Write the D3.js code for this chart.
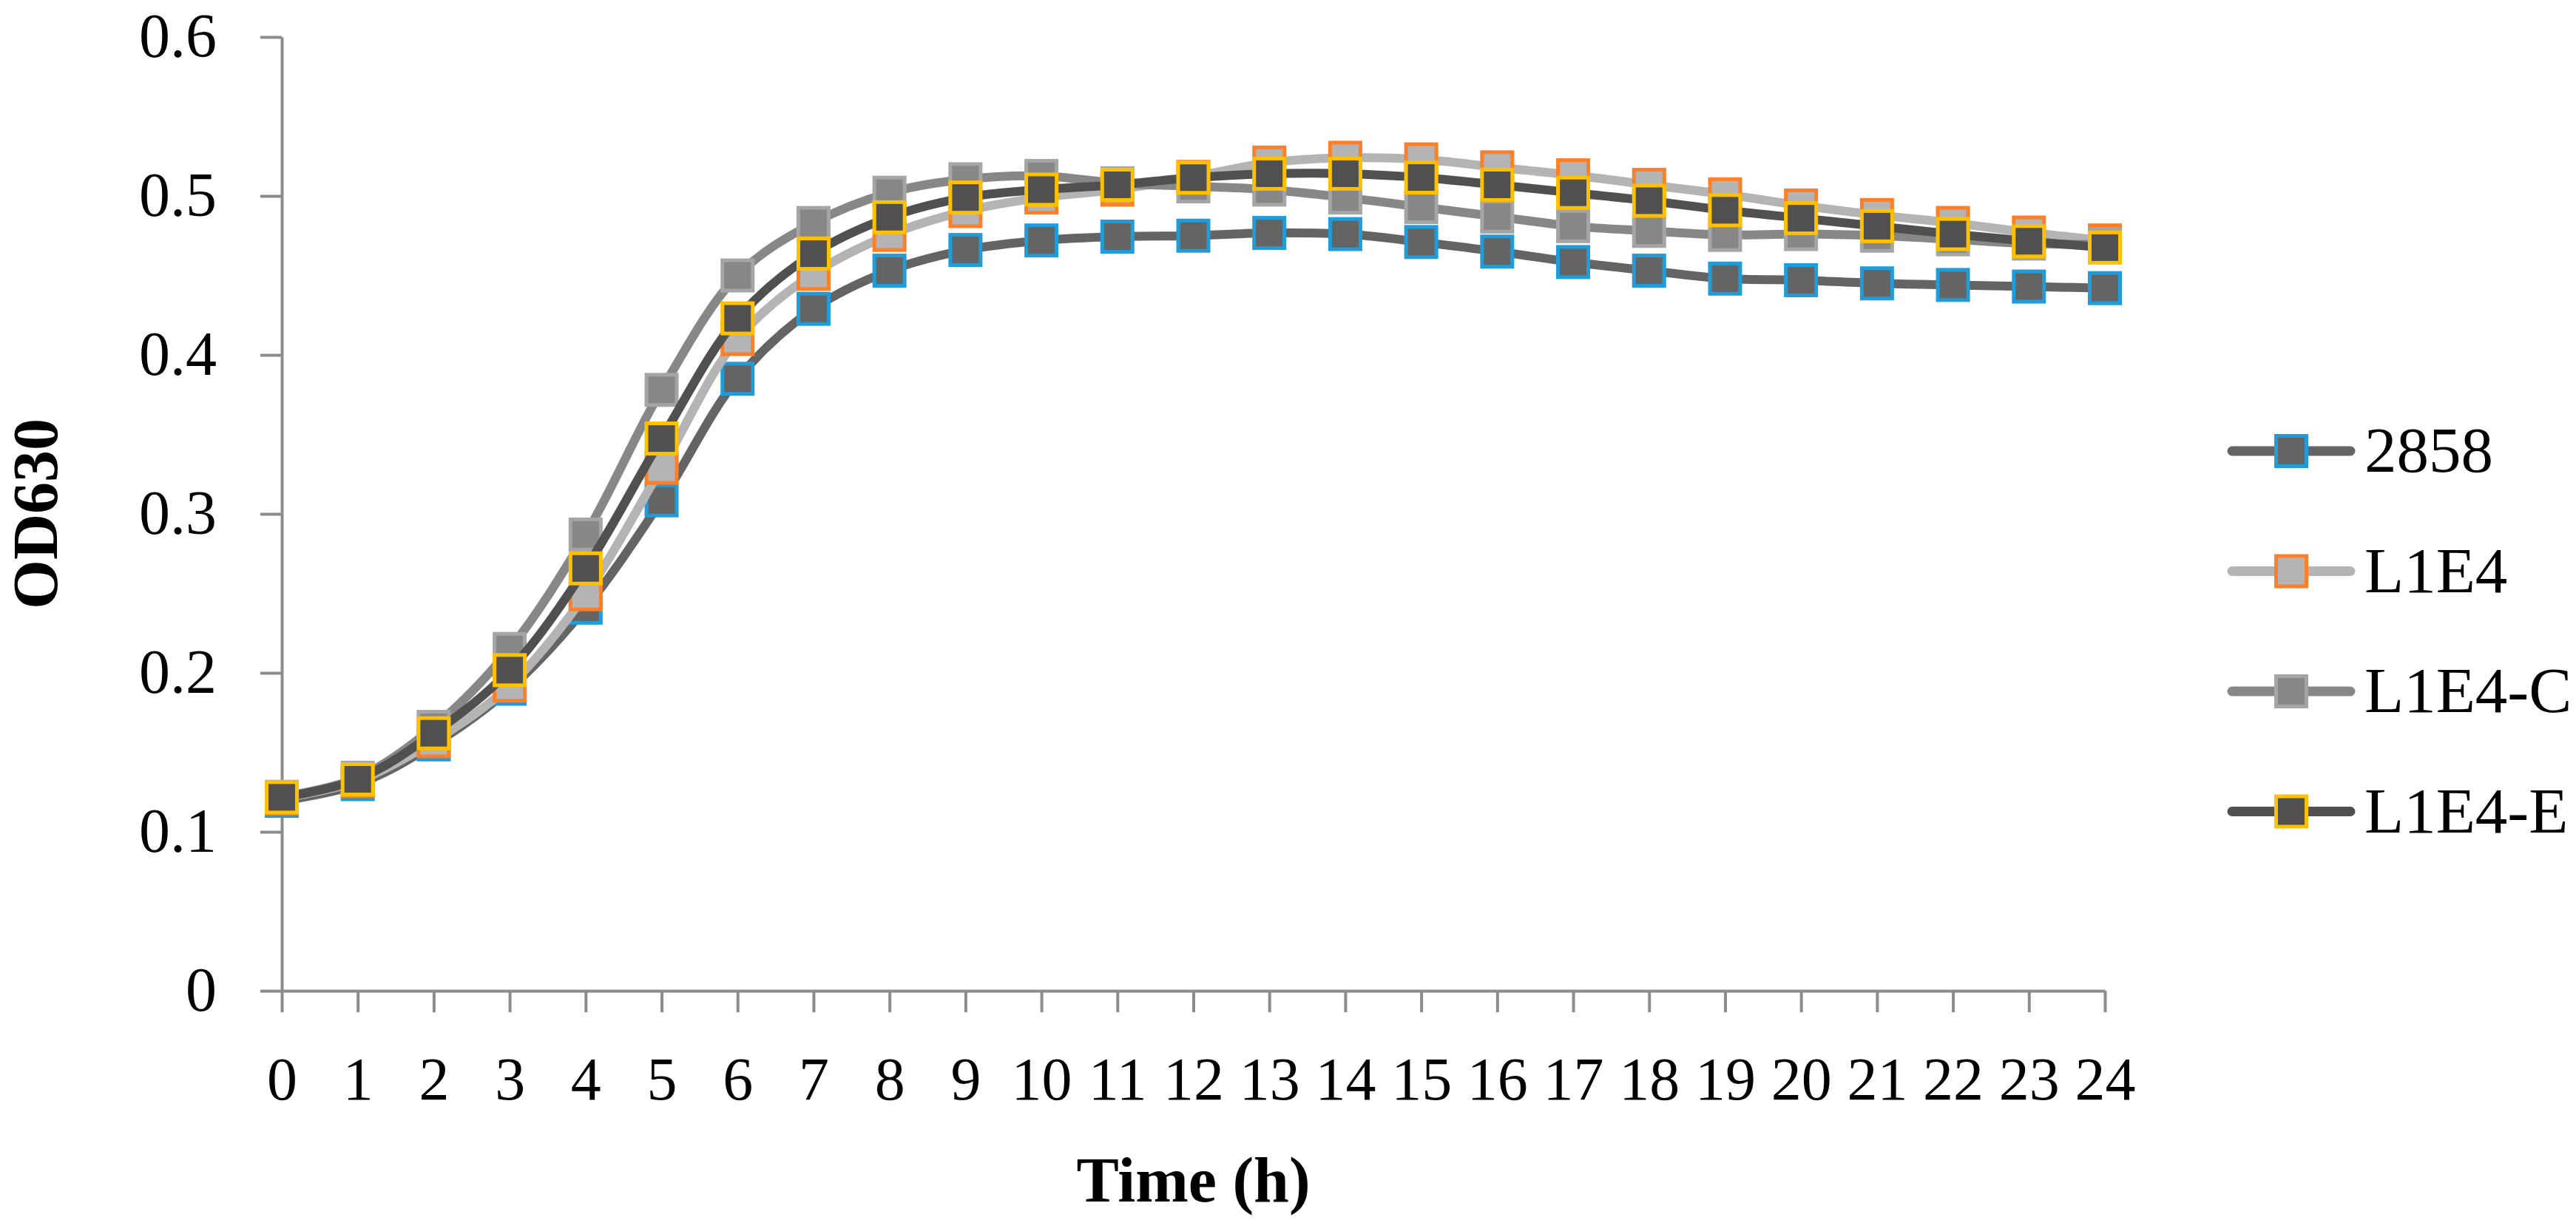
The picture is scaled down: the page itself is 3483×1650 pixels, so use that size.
<!DOCTYPE html>
<html>
<head>
<meta charset="utf-8">
<script src="https://cdn.jsdelivr.net/npm/d3@7"></script>
<style>
  body { margin: 0; background: #fff; }
  text { font-family: "Palatino Linotype", "Book Antiqua", "Liberation Serif", serif; }
</style>
</head>
<body>
<div id="chart"></div>
<script>
// time points (h)
const hours = [0, 1, 2, 3, 4, 5, 6, 7, 8, 9, 10, 11, 12, 13, 14, 15, 16, 17, 18, 19, 20, 21, 22, 23, 24];
const yTicks = [0, 0.1, 0.2, 0.3, 0.4, 0.5, 0.6];

const seriesNames = ["2858", "L1E4", "L1E4-C", "L1E4-E"];

// OD630
const od2858 = [0.1195, 0.130, 0.155, 0.190, 0.241, 0.3085, 0.385, 0.429, 0.453, 0.466, 0.472, 0.4744, 0.475,
  0.4767, 0.476, 0.471, 0.465, 0.4584, 0.453, 0.448, 0.447, 0.445, 0.444, 0.443, 0.442];
const odL1E4 = [0.121, 0.132, 0.157, 0.192, 0.2495, 0.329, 0.410, 0.451, 0.4755, 0.4905, 0.499, 0.504, 0.512,
  0.521, 0.524, 0.523, 0.518, 0.513, 0.507, 0.501, 0.494, 0.488, 0.483, 0.477, 0.472];
const odL1E4C = [0.122, 0.134, 0.166, 0.215, 0.287, 0.378, 0.450, 0.483, 0.502, 0.5105, 0.5126, 0.508, 0.506,
  0.504, 0.499, 0.493, 0.487, 0.481, 0.478, 0.4755, 0.476, 0.475, 0.4727, 0.470, 0.4695];
const odL1E4E = [0.1217, 0.133, 0.162, 0.2017, 0.2657, 0.3474, 0.423, 0.4637, 0.4866, 0.499, 0.504, 0.507, 0.5115,
  0.514, 0.514, 0.5116, 0.507, 0.502, 0.497, 0.491, 0.486, 0.481, 0.476, 0.4715, 0.4675];

const seriesValues = [od2858, odL1E4, odL1E4C, odL1E4E];

// styles
const lineColors = ["#646464", "#b4b4b4", "#878787", "#505050"];
const markerBorders = ["#1e9dda", "#fd7f28", "#a5a5a5", "#ffc000"];

let margin = {top: 50, right: 637, bottom: 310, left: 381};
let width = 3483 - margin.left - margin.right;
let height = 1650 - margin.top - margin.bottom;

let svg = d3.select("#chart").append("svg")
  .attr("width", 3483)
  .attr("height", 1650)
  .append("g")
  .attr("transform", "translate(" + margin.left + "," + margin.top + ")");

let x = d3.scaleLinear().domain([0, 24]).range([0, width]);
let y = d3.scaleLinear().domain([0, 0.6]).range([height, 0]);

let axisColor = "#8c8c8c";

// y axis
let yAxis = d3.axisLeft(y)
  .tickValues(yTicks)
  .tickSize(29)
  .tickSizeOuter(0)
  .tickFormat(d => d === 0 ? "0" : d.toFixed(1));

let gy = svg.append("g").attr("class", "y-axis").call(yAxis);
gy.select(".domain").attr("stroke", axisColor).attr("stroke-width", 4);
gy.selectAll(".tick line").attr("stroke", axisColor).attr("stroke-width", 4);
gy.selectAll(".tick text")
  .attr("x", -88)
  .attr("dy", "0.31em")
  .style("font-size", "84px")
  .attr("fill", "#000");

// x axis
let xAxis = d3.axisBottom(x)
  .tickValues(hours)
  .tickSize(29)
  .tickSizeOuter(0)
  .tickFormat(d => String(d));

let gx = svg.append("g").attr("class", "x-axis")
  .attr("transform", "translate(0," + height + ")")
  .call(xAxis);
gx.select(".domain").attr("stroke", axisColor).attr("stroke-width", 4);
gx.selectAll(".tick line").attr("stroke", axisColor).attr("stroke-width", 4);
gx.selectAll(".tick text")
  .attr("y", 147)
  .attr("dy", 0)
  .style("font-size", "82px")
  .attr("fill", "#000");

// axis titles
svg.append("text")
  .attr("transform", "translate(" + (77 - margin.left) + "," + (height / 2) + ") rotate(-90)")
  .attr("text-anchor", "middle")
  .style("font-size", "86px")
  .style("font-weight", "bold")
  .text("OD630");

svg.append("text")
  .attr("x", width / 2)
  .attr("y", 1625 - margin.top)
  .attr("text-anchor", "middle")
  .style("font-size", "86px")
  .style("font-weight", "bold")
  .text("Time (h)");

// lines + markers, one series at a time
let line = d3.line()
  .x((d, i) => x(hours[i]))
  .y(d => y(d))
  .curve(d3.curveCatmullRom.alpha(0.5));

let markerSize = 41;

seriesValues.forEach((vals, s) => {
  let g = svg.append("g").attr("class", "series");
  g.append("path")
    .datum(vals)
    .attr("d", line)
    .attr("fill", "none")
    .attr("stroke", lineColors[s])
    .attr("stroke-width", 12)
    .attr("stroke-linejoin", "round");

  g.selectAll("rect")
    .data(vals)
    .enter()
    .append("rect")
    .attr("x", (d, i) => x(hours[i]) - markerSize / 2)
    .attr("y", d => y(d) - markerSize / 2)
    .attr("width", markerSize)
    .attr("height", markerSize)
    .attr("fill", lineColors[s])
    .attr("stroke", markerBorders[s])
    .attr("stroke-width", 5);
});

// legend
let legend = svg.append("g")
  .attr("transform", "translate(" + (3012 - margin.left) + "," + (610 - margin.top) + ")");

let rowGap = 162.5;

seriesNames.forEach((name, s) => {
  let row = legend.append("g").attr("transform", "translate(0," + (s * rowGap) + ")");
  row.append("line")
    .attr("x1", 6).attr("x2", 166)
    .attr("y1", 0).attr("y2", 0)
    .attr("stroke", lineColors[s])
    .attr("stroke-width", 13)
    .attr("stroke-linecap", "round");
  row.append("rect")
    .attr("x", 86 - markerSize / 2)
    .attr("y", -markerSize / 2)
    .attr("width", markerSize)
    .attr("height", markerSize)
    .attr("fill", lineColors[s])
    .attr("stroke", markerBorders[s])
    .attr("stroke-width", 5);
  row.append("text")
    .attr("x", 185)
    .attr("y", 28)
    .style("font-size", "87px")
    .attr("fill", "#000")
    .text(name);
});
</script>
</body>
</html>
